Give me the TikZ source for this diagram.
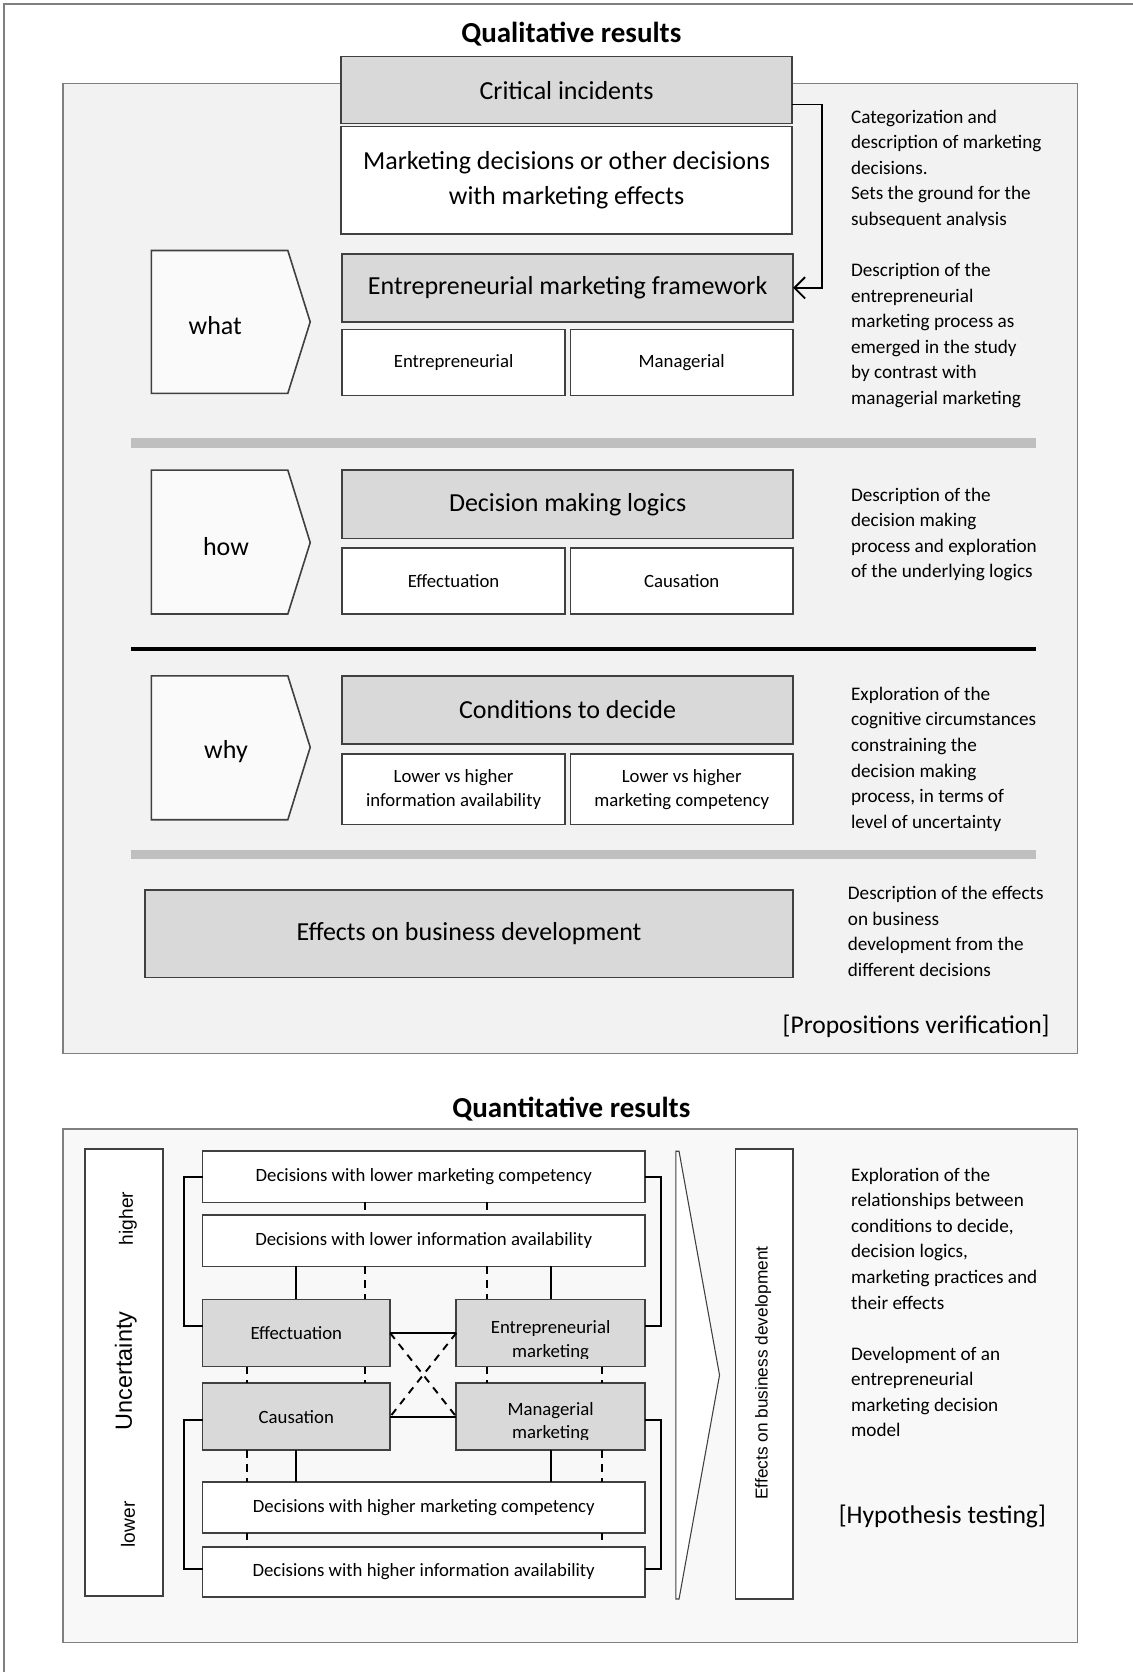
\documentclass[tikz,border=0pt]{standalone}
\usepackage{fontspec}
\setmainfont{Carlito}
\newfontfamily\arialf{Liberation Sans}
\usetikzlibrary{arrows.meta,calc}
\definecolor{panel}{HTML}{F2F2F2}
\definecolor{panelb}{HTML}{F8F8F8}
\definecolor{boxg}{HTML}{D9D9D9}
\definecolor{barg}{HTML}{BFBFBF}
\definecolor{edge}{HTML}{404040}
\definecolor{pedge}{HTML}{7F7F7F}
\definecolor{chevf}{HTML}{FAFAFA}
\begin{document}
\begin{tikzpicture}[x=0.5pt,y=-0.5pt,
  box/.style 2 args={draw=edge,line width=0.75pt,inner sep=0pt,outer sep=0pt,
    minimum width=#1*0.5pt,minimum height=#2*0.5pt,align=center},
  gbox/.style 2 args={box={#1}{#2},fill=boxg},
  wbox/.style 2 args={box={#1}{#2},fill=white},
  big/.style={font=\fontsize{12.2}{16.5}\selectfont},
  small/.style={font=\fontsize{8.8}{11.5}\selectfont},
  note/.style={font=\fontsize{9}{12}\selectfont,align=left,anchor=base west,inner sep=0pt},
  ttl/.style={font=\bfseries\fontsize{13.6}{16}\selectfont,inner sep=0pt},
  brk/.style={font=\fontsize{12}{14}\selectfont,inner sep=0pt},
  rot/.style={rotate=90,inner sep=0pt},
  chev/.style={draw=edge,line width=0.75pt,fill=chevf},
  conn/.style={line width=0.9pt,black},
  dsh/.style={conn,dash pattern=on 3.5pt off 3pt},
]
\useasboundingbox (0,0) rectangle (1062,1568.5);
\fill[white] (0,0) rectangle (1062,1568.5);
% outer frame
\draw[pedge,line width=1pt] (3.5,1600) -- (3.5,3.5) -- (1100,3.5);

% ================= Qualitative =================
\draw[pedge,fill=panel,line width=0.6pt] (59,78) rectangle (1011,988);
\node[ttl] (t1) at (536,32) {Qualitative results};

\node[gbox={423}{63},big] (ci) at (531.5,84.5) {Critical incidents};
\node[wbox={423}{101},big] (md) at (531.5,169) {Marketing decisions or other decisions\\with marketing effects};
\node[gbox={423}{64},big] (emf) at (532.5,270) {Entrepreneurial marketing framework};
\node[wbox={209}{62},small] (ent) at (425.5,340) {Entrepreneurial};
\node[wbox={209}{62},small] (man) at (639.5,340) {Managerial};
\draw[conn,-{Straight Barb[length=5pt,width=10pt]}] ([yshift=-6.75pt]ci.east) -- ++(14pt,0) |- (emf.east);

\draw[chev] (142,235) -- (270,235) -- (291,302) -- (270,369) -- (142,369) -- cycle;
\node[big] (what) at (202,305) {what};

\begin{scope}
\clip (790,90) rectangle (1005,212);
\node[note] (n1) at (798,211.5) {Categorization and\\description of marketing\\decisions.\\Sets the ground for the\\subsequent analysis};
\end{scope}
\node[note] (n2) at (798,379.5) {Description of the\\entrepreneurial\\marketing process as\\emerged in the study\\by contrast with\\managerial marketing};

\fill[barg] (123,411) rectangle (972,420);

\draw[chev] (142,441) -- (270,441) -- (291,509) -- (270,576) -- (142,576) -- cycle;
\node[big] (how) at (212,513) {how};
\node[gbox={423}{64},big] (dml) at (532.5,473) {Decision making logics};
\node[wbox={209}{62},small] (effq) at (425.5,545) {Effectuation};
\node[wbox={209}{62},small] (cauq) at (639.5,545) {Causation};
\node[note] (n3) at (798,542) {Description of the\\decision making\\process and exploration\\of the underlying logics};

\draw[line width=2pt] (123,609) -- (972,609);

\draw[chev] (142,634) -- (270,634) -- (291,701) -- (270,769) -- (142,769) -- cycle;
\node[big] (why) at (212,705) {why};
\node[gbox={423}{64},big] (ctd) at (532.5,666) {Conditions to decide};
\node[wbox={209}{66},small] (lia) at (425.5,740.5) {Lower vs higher\\information availability};
\node[wbox={209}{66},small] (lmc) at (639.5,740.5) {Lower vs higher\\marketing competency};
\node[note] (n4) at (798,777) {Exploration of the\\cognitive circumstances\\constraining the\\decision making\\process, in terms of\\level of uncertainty};

\fill[barg] (123,797) rectangle (972,806);

\node[gbox={608}{82},big] (ebd) at (440,876) {Effects on business development};
\node[note] (n5) at (795,916) {Description of the effects\\on business\\development from the\\different decisions};
\node[brk,anchor=east] (pv) at (985,963) {[Propositions verification]};

% ================= Quantitative =================
\node[ttl] (t2) at (536,1040) {Quantitative results};
\draw[pedge,fill=panelb,line width=0.6pt] (59,1059) rectangle (1011,1541);

\node[wbox={73}{419}] (unc) at (116.5,1287.5) {};
\node[rot,font=\arialf\fontsize{9}{11}\selectfont] (hi) at (120,1143) {higher};
\node[rot,font=\arialf\fontsize{11}{13}\selectfont] (un) at (118,1286) {Uncertainty};
\node[rot,font=\arialf\fontsize{9}{11}\selectfont] (lo) at (120,1430) {lower};

\node[wbox={415}{48},small] (dlmc) at (397.5,1104) {Decisions with lower marketing competency};
\node[wbox={415}{48},small] (dlia) at (397.5,1164) {Decisions with lower information availability};
\node[gbox={176}{63},small] (eff) at (278,1250.5) {Effectuation};
\node[gbox={177}{63}] (em) at (516.5,1250.5) {};
\node[gbox={176}{63},small] (cau) at (278,1329) {Causation};
\node[gbox={177}{63}] (mm) at (516.5,1329) {};
\node[wbox={415}{48},small] (dhmc) at (397.5,1414) {Decisions with higher marketing competency};
\node[wbox={415}{47},small] (dhia) at (397.5,1474.5) {Decisions with higher information availability};

\begin{scope}
\clip (428,1219) rectangle (605,1274);
\node[font=\fontsize{8.8}{11}\selectfont,align=center,anchor=base,inner sep=0pt] (emt) at (516.5,1273) {Entrepreneurial\\marketing};
\end{scope}
\begin{scope}
\clip (428,1298) rectangle (605,1350.5);
\node[font=\fontsize{8.8}{11}\selectfont,align=center,anchor=base,inner sep=0pt] (mmt) at (516.5,1349.5) {Managerial\\marketing};
\end{scope}

% brackets
\draw[conn] (dlmc.west) -- ++(-8.5pt,0) |- ([yshift=3.25pt]eff.west);
\draw[conn] (dlmc.east) -- ++(7.5pt,0) |- ([yshift=3.25pt]em.east);
\draw[conn] ([yshift=-1.5pt]cau.west) -- ++(-8.5pt,0) |- ([yshift=1.25pt]dhia.west);
\draw[conn] ([yshift=-1.5pt]mm.east) -- ++(7.5pt,0) |- ([yshift=1.25pt]dhia.east);

% vertical links
\draw[dsh] ([xshift=76pt]dlmc.south west) -- ([xshift=76pt]dlia.north west);
\draw[dsh] ([xshift=133.5pt]dlmc.south west) -- ([xshift=133.5pt]dlia.north west);
\draw[conn] (eff.north) -- (eff.north |- dlia.south);
\draw[conn] (em.north) -- (em.north |- dlia.south);
\draw[dsh] ([xshift=76pt]dlia.south west) -- ([xshift=76pt]eff.north west);
\draw[dsh] ([xshift=133.5pt]dlia.south west) -- ([xshift=14.5pt]em.north west);
\draw[dsh] ([xshift=21pt]eff.south west) -- ([xshift=21pt]cau.north west);
\draw[dsh] ([xshift=76pt]eff.south west) -- ([xshift=76pt]cau.north west);
\draw[dsh] ([xshift=14.5pt]em.south west) -- ([xshift=14.5pt]mm.north west);
\draw[dsh] ([xshift=68.5pt]em.south west) -- ([xshift=68.5pt]mm.north west);
\draw[conn] (eff.east) -- (em.west);
\draw[conn] (cau.east) -- (mm.west);
\draw[dsh] (eff.east) -- (mm.west);
\draw[dsh] (em.west) -- (cau.east);
\draw[dsh] ([xshift=21pt]cau.south west) -- ([xshift=21pt]dhmc.north west);
\draw[conn] (cau.south) -- (cau.south |- dhmc.north);
\draw[conn] (mm.south) -- (mm.south |- dhmc.north);
\draw[dsh] ([xshift=68.5pt]mm.south west) -- ([xshift=187.5pt]dhmc.north west);
\draw[dsh] ([xshift=21pt]dhmc.south west) -- ([xshift=21pt]dhia.north west);
\draw[dsh] ([xshift=187.5pt]dhmc.south west) -- ([xshift=187.5pt]dhia.north west);

% chevron
\draw[edge,line width=0.5pt,fill=white] (634,1080) -- (637,1080) -- (675,1290) -- (637,1500) -- (634,1500) -- cycle;

\node[wbox={54}{422}] (ebd2) at (717,1289) {};
\node[rot,font=\arialf\fontsize{8.1}{10}\selectfont] (ebdt) at (716,1288) {Effects on business development};

\node[note] (n6) at (798,1228) {Exploration of the\\relationships between\\conditions to decide,\\decision logics,\\marketing practices and\\their effects};
\node[note] (n7) at (798,1348) {Development of an\\entrepreneurial\\marketing decision\\model};
\node[brk] (ht) at (884,1423) {[Hypothesis testing]};
\end{tikzpicture}
\end{document}
